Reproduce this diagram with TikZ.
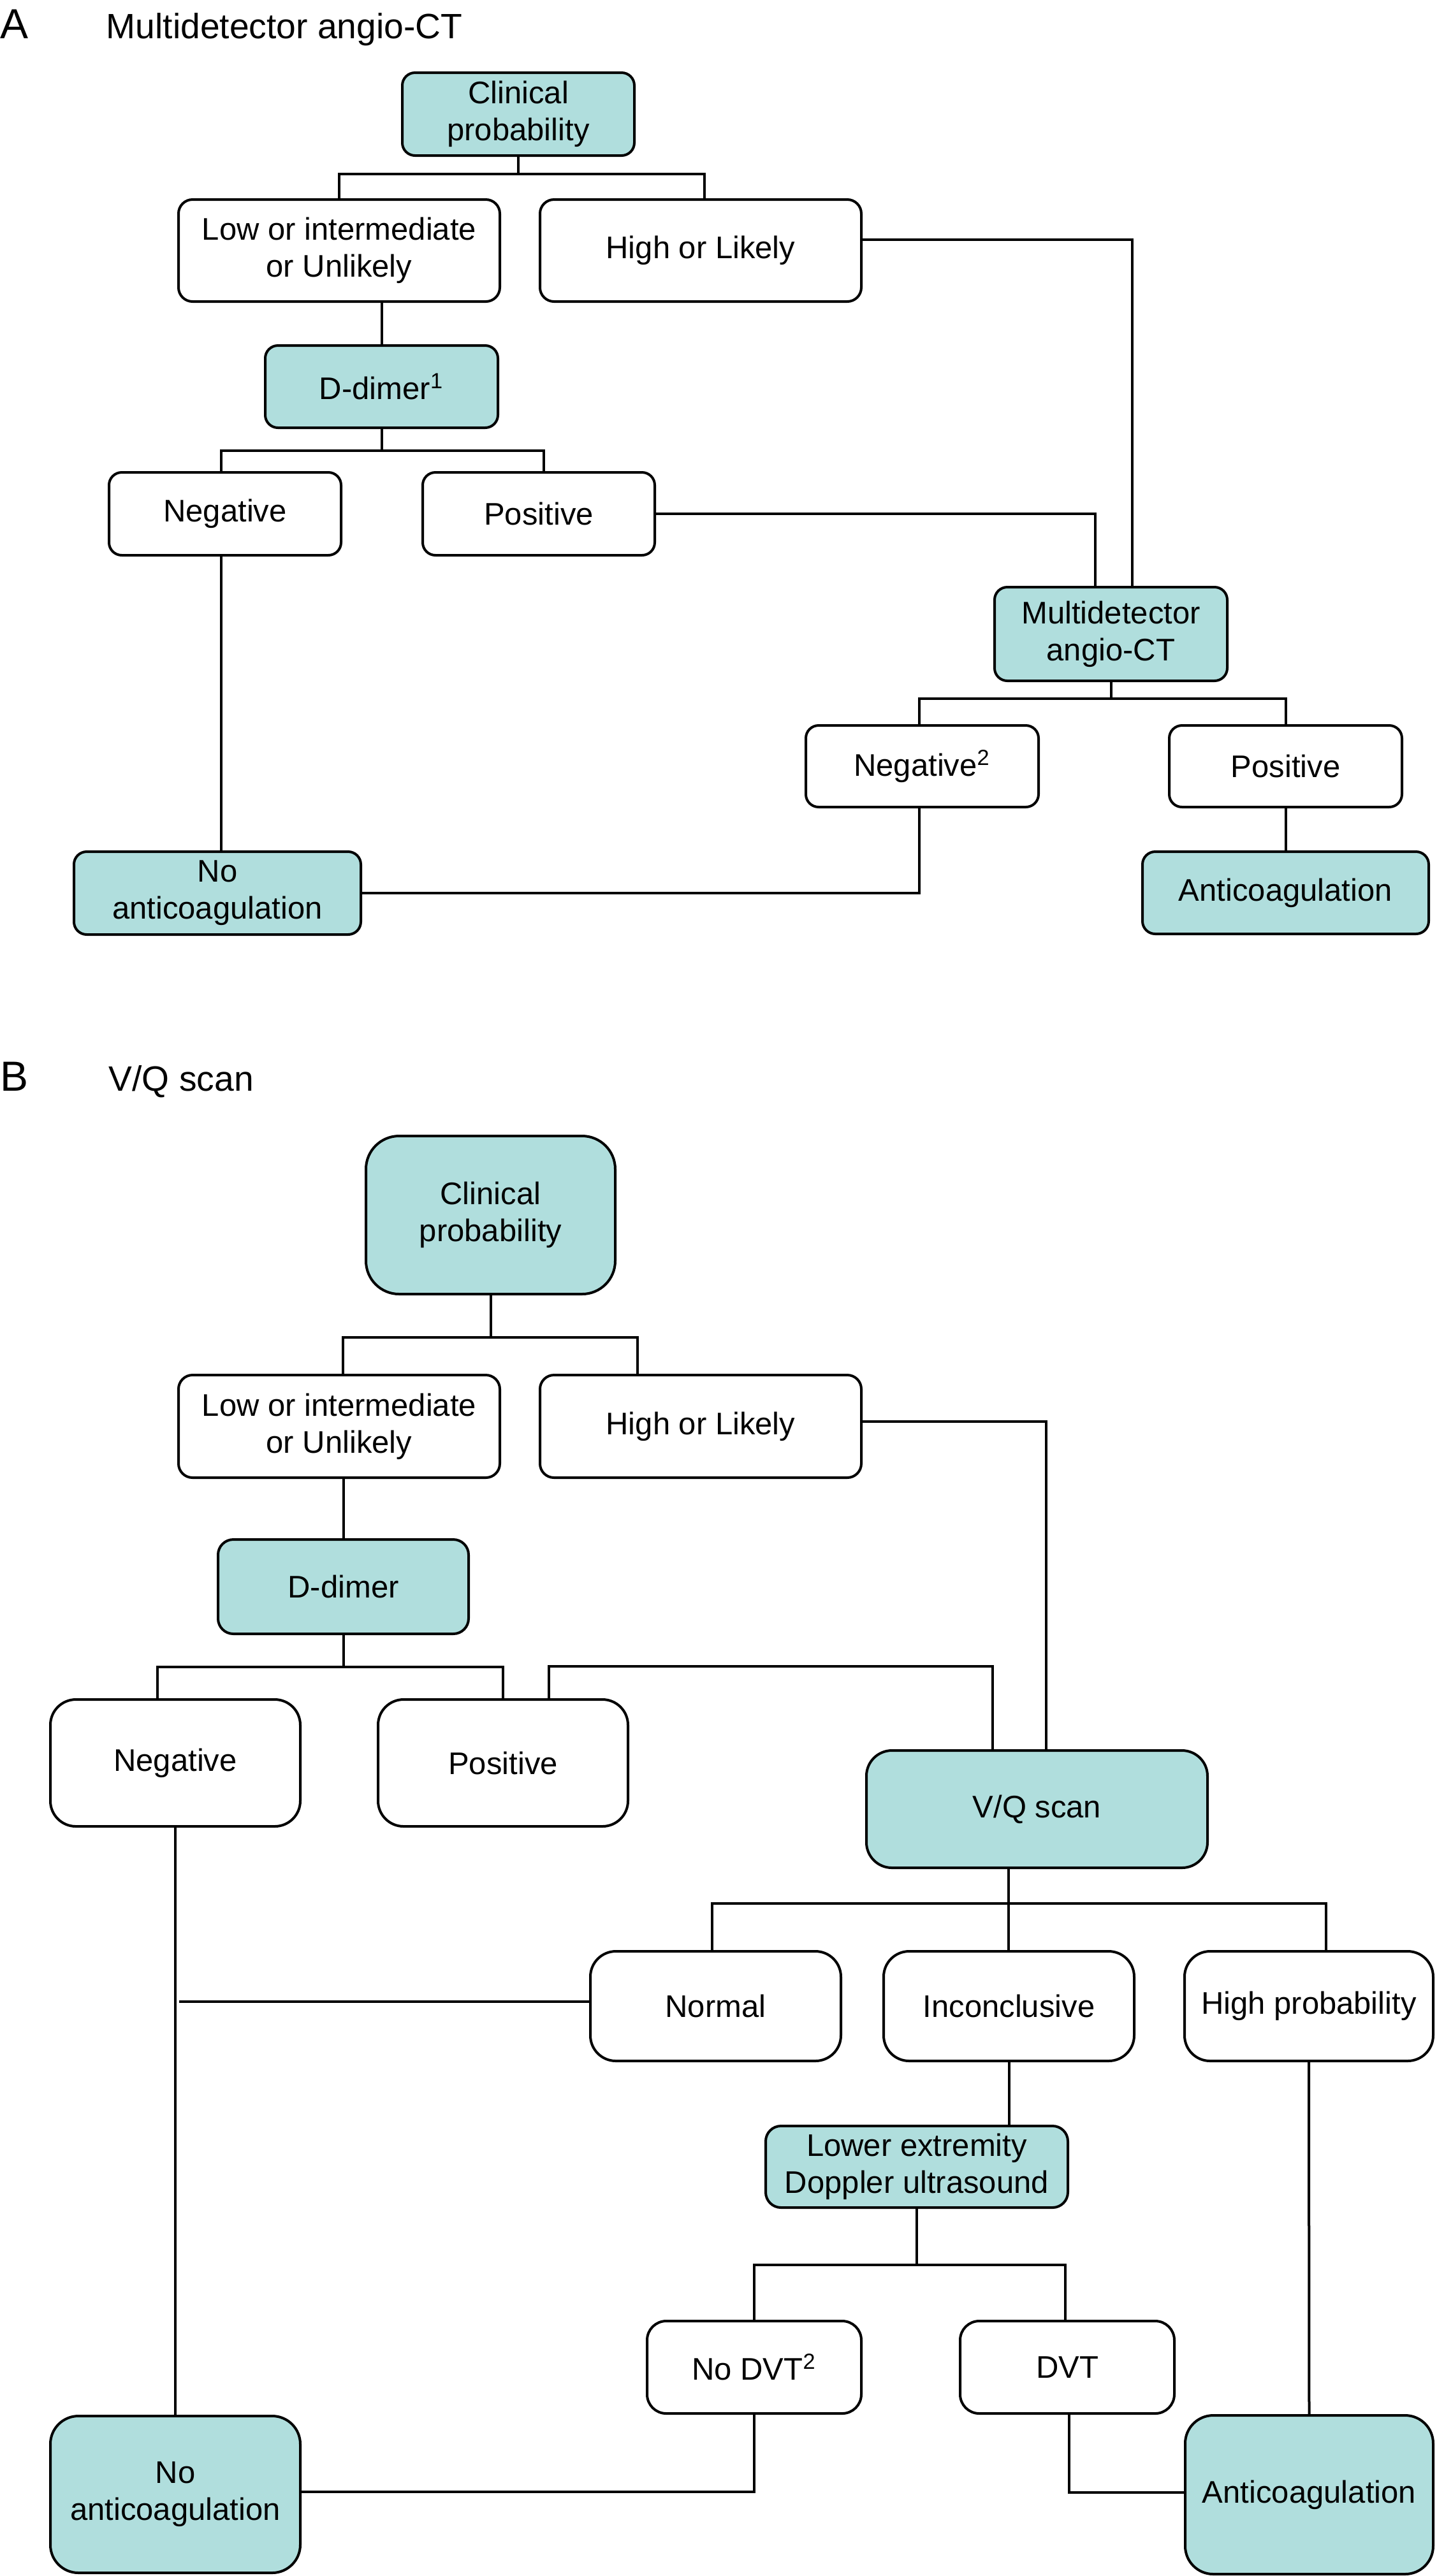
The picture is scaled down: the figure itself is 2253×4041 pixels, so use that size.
\documentclass[tikz,border=0pt]{standalone}
\usepackage{fontspec}
\setmainfont{Liberation Sans}
\definecolor{tealc}{RGB}{176,222,221}
\newcommand{\nodefont}{\fontsize{12.25}{14.5}\selectfont}
\newcommand{\titlefont}{\fontsize{13.8}{16}\selectfont}
\newcommand{\letterfont}{\fontsize{16.5}{19}\selectfont}
\tikzset{
  box/.style={draw, line width=1pt, align=center, inner sep=0pt, font=\nodefont},
  tbox/.style={box, fill=tealc},
  wbox/.style={box, fill=white},
  conn/.style={line width=1pt},
  ttl/.style={anchor=base west, inner sep=0pt}
}
\begin{document}
\begin{tikzpicture}[x=0.25pt, y=-0.25pt]
\useasboundingbox (0,0) rectangle (2253,4041);

% ---------- Part A ----------
\node[ttl, font=\letterfont] (tA) at (0,60) {A};
\node[ttl, font=\titlefont] (tAt) at (166,60) {Multidetector angio-CT};

\node[tbox, minimum width=91pt, minimum height=32.5pt, rounded corners=5pt] (cpA) at (813,179) {Clinical\\probability};
\node[wbox, minimum width=126pt, minimum height=40pt, rounded corners=5.5pt] (lowA) at (532,393) {Low or intermediate\\or Unlikely};
\node[wbox, minimum width=126pt, minimum height=40pt, rounded corners=5.5pt] (highA) at (1099,393) {High or Likely};
\node[tbox, minimum width=91.25pt, minimum height=32.25pt, rounded corners=5pt] (ddA) at (598.5,606.5) {D-dimer\textsuperscript{1}};
\node[wbox, minimum width=91pt, minimum height=32.5pt, rounded corners=5pt] (negA) at (353,806) {Negative};
\node[wbox, minimum width=91pt, minimum height=32.5pt, rounded corners=5pt] (posA) at (845,806) {Positive};
\node[tbox, minimum width=91.25pt, minimum height=36.75pt, rounded corners=5pt] (mdA) at (1742.5,994.5) {Multidetector\\angio-CT};
\node[wbox, minimum width=91.25pt, minimum height=32pt, rounded corners=5pt] (neg2A) at (1446.5,1202) {Negative\textsuperscript{2}};
\node[wbox, minimum width=91.25pt, minimum height=32pt, rounded corners=5pt] (pos2A) at (2016.5,1202) {Positive};
\node[tbox, minimum width=112.25pt, minimum height=32.25pt, rounded corners=5pt] (acA) at (2016.5,1400.5) {Anticoagulation};
\node[tbox, minimum width=112.5pt, minimum height=32.5pt, rounded corners=5pt] (nacA) at (341,1401) {No\\anticoagulation};

\draw[conn] (cpA.south) -- ++(0,27) -| (lowA.north);
\draw[conn] (cpA.south) -- ++(0,27) -| ([xshift=1.5pt]highA.north);
\draw[conn] (ddA.north) -- (ddA.north |- lowA.south);
\draw[conn] (ddA.south) -- ++(0,34) -| ([xshift=-1.5pt]negA.north);
\draw[conn] (ddA.south) -- ++(0,34) -| ([xshift=2pt]posA.north);
\draw[conn] ([yshift=4.25pt]highA.east) -| ([xshift=8.4pt]mdA.north);
\draw[conn] (posA.east) -| ([xshift=-6.1pt]mdA.north);
\draw[conn] (mdA.south) -- ++(0,26) -| ([xshift=-1.1pt]neg2A.north);
\draw[conn] (mdA.south) -- ++(0,26) -| (pos2A.north);
\draw[conn] (pos2A.south) -- (acA.north);
\draw[conn] ([xshift=-1.1pt]neg2A.south) |- (nacA.east);
\draw[conn] ([xshift=-1.5pt]negA.south) -- ([xshift=-1.5pt]negA.south |- nacA.north);

% ---------- Part B ----------
\node[ttl, font=\letterfont] (tB) at (0,1711) {B};
\node[ttl, font=\titlefont] (tBt) at (170,1711) {V/Q scan};

\node[tbox, minimum width=97.75pt, minimum height=62pt, rounded corners=13pt] (cpB) at (769.5,1906) {Clinical\\probability};
\node[wbox, minimum width=126pt, minimum height=40.25pt, rounded corners=5.5pt] (lowB) at (532,2237.5) {Low or intermediate\\or Unlikely};
\node[wbox, minimum width=126pt, minimum height=40.25pt, rounded corners=5.5pt] (highB) at (1099,2237.5) {High or Likely};
\node[tbox, minimum width=98.25pt, minimum height=37pt, rounded corners=6pt] (ddB) at (538.5,2489) {D-dimer};
\node[wbox, minimum width=98pt, minimum height=49.75pt, rounded corners=10pt] (negB) at (275,2765.5) {Negative};
\node[wbox, minimum width=98pt, minimum height=49.75pt, rounded corners=10pt] (posB) at (789,2765.5) {Positive};
\node[tbox, minimum width=133.75pt, minimum height=46pt, rounded corners=10pt] (vqB) at (1626.5,2838) {V/Q scan};
\node[wbox, minimum width=98.25pt, minimum height=43pt, rounded corners=10pt] (normB) at (1122.5,3147) {Normal};
\node[wbox, minimum width=98.25pt, minimum height=43pt, rounded corners=10pt] (incB) at (1582.5,3147) {Inconclusive};
\node[wbox, minimum width=97.5pt, minimum height=43pt, rounded corners=10pt] (hpB) at (2053,3147) {High probability};
\node[tbox, minimum width=118.5pt, minimum height=32pt, rounded corners=6pt] (dopB) at (1438,3399) {Lower extremity\\Doppler ultrasound};
\node[wbox, minimum width=84pt, minimum height=36.25pt, rounded corners=7.5pt] (nodvtB) at (1183,3713.5) {No DVT\textsuperscript{2}};
\node[wbox, minimum width=84pt, minimum height=36.25pt, rounded corners=7.5pt] (dvtB) at (1674,3713.5) {DVT};
\node[tbox, minimum width=98pt, minimum height=61.5pt, rounded corners=11pt] (nacB) at (275,3913) {No\\anticoagulation};
\node[tbox, minimum width=97.25pt, minimum height=62.25pt, rounded corners=11pt] (acB) at (2053.5,3913.5) {Anticoagulation};

\coordinate (normEnd) at (281,3140);

\draw[conn] (cpB.south) -- ++(0,66) -| ([xshift=1.5pt]lowB.north);
\draw[conn] (cpB.south) -- ++(0,66) -| ([xshift=-24.75pt]highB.north);
\draw[conn] (ddB.north) -- (ddB.north |- lowB.south);
\draw[conn] (ddB.south) -- ++(0,50) -| ([xshift=-7pt]negB.north);
\draw[conn] (ddB.south) -- ++(0,50) -| (posB.north);
\draw[conn] ([xshift=18pt]posB.north) -- ++(0,-50) -| ([xshift=-17.4pt]vqB.north);
\draw[conn] ([yshift=1.9pt]highB.east) -| ([xshift=3.6pt]vqB.north);
\draw[conn] ([xshift=-11.1pt]vqB.south) -- ([xshift=-11.1pt]vqB.south |- incB.north);
\draw[conn] ([xshift=-11.1pt]vqB.south) -- ++(0,54) -| ([xshift=-1.4pt]normB.north);
\draw[conn] ([xshift=-11.1pt]vqB.south) -- ++(0,54) -| ([xshift=6.75pt]hpB.north);
\draw[conn] ([yshift=1.75pt]normB.west) -- (normEnd);
\draw[conn] (incB.south) -- (incB.south |- dopB.north);
\draw[conn] (dopB.south) -- ++(0,88) -| (nodvtB.north);
\draw[conn] (dopB.south) -- ++(0,88) -| ([xshift=-0.75pt]dvtB.north);
\draw[conn] (nodvtB.south) |- ([yshift=1pt]nacB.east);
\draw[conn] ([xshift=0.75pt]dvtB.south) |- ([yshift=1pt]acB.west);
\draw[conn] (hpB.south) -- (acB.north);
\draw[conn] (negB.south) -- (nacB.north);
\end{tikzpicture}
\end{document}
